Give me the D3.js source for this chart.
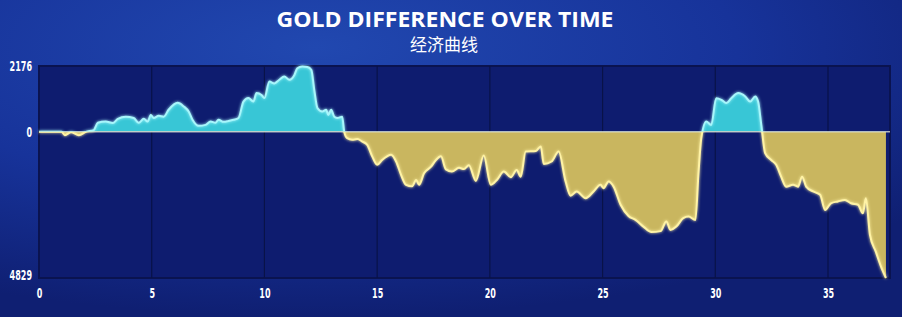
<!DOCTYPE html>
<html>
<head>
<meta charset="utf-8">
<script src="https://cdn.jsdelivr.net/npm/d3@7"></script>
<style>
  html, body { margin: 0; padding: 0; background: #14298a; overflow: hidden; }
  svg { display: block; }
  .axis text {
    fill: #fff;
    font-family: "DejaVu Sans Condensed", "Liberation Sans", sans-serif;
    font-weight: bold;
    font-size: 14px;
  }
</style>
</head>
<body>
<svg id="chart"></svg>
<script>
const title = "GOLD DIFFERENCE OVER TIME";
const subtitle = "经济曲线";

// game minute, gold difference
const minutes = [0, 0.5, 1.0, 1.15, 1.42, 1.77, 2.08, 2.43, 2.61, 2.96, 3.27, 3.5, 3.85, 4.2, 4.42, 4.65, 4.82, 4.96,
  5.09, 5.31, 5.53, 5.75, 6.15, 6.42, 6.64, 6.81, 7.08, 7.39, 7.61, 7.83, 7.96, 8.19, 8.41, 8.63, 8.85, 9.07, 9.29,
  9.51, 9.65, 9.87, 10.0, 10.22, 10.44, 10.66, 10.88, 11.11, 11.33, 11.46, 11.68, 11.9, 12.08, 12.21, 12.35, 12.57,
  12.74, 12.83, 12.96, 13.1, 13.23, 13.45, 13.54, 13.67, 13.89, 14.12, 14.34, 14.56, 14.78, 15.0, 15.22, 15.44,
  15.62, 15.84, 16.06, 16.28, 16.55, 16.73, 16.86, 17.08, 17.39, 17.61, 17.83, 18.05, 18.32, 18.63, 18.85, 19.07,
  19.38, 19.73, 20.04, 20.31, 20.62, 20.93, 21.19, 21.37, 21.59, 22.04, 22.26, 22.39, 22.74, 23.05, 23.36, 23.58,
  23.85, 24.25, 24.6, 24.91, 25.04, 25.27, 25.49, 25.8, 26.15, 26.46, 26.81, 27.17, 27.57, 27.83, 28.01, 28.27,
  28.58, 28.81, 29.12, 29.25, 29.38, 29.6, 29.82, 30.04, 30.27, 30.49, 30.71, 31.02, 31.33, 31.55, 31.77, 31.9,
  32.04, 32.21, 32.48, 32.7, 32.92, 33.14, 33.45, 33.67, 33.85, 34.03, 34.34, 34.65, 34.87, 35.13, 35.44, 35.75,
  36.02, 36.33, 36.55, 36.68, 36.86, 37.12, 37.35, 37.57];
const gold = [0, 0, 0, -110, -10, -110, 0, 60, 300, 340, 290, 430, 500, 460, 300, 430, 340, 560,
  460, 530, 500, 730, 960, 840, 670, 400, 200, 230, 340, 300, 400, 330, 360, 400, 460, 1000, 1120,
  1000, 1280, 1220, 1120, 1660, 1600, 1720, 1830, 1720, 1880, 2100, 2160, 2140, 2050, 1390, 790, 670,
  730, 560, 730, 500, 460, 500, 0, -210, -260, -240, -320, -430, -810, -1090, -930, -810,
  -760, -980, -1420, -1750, -1800, -1590, -1750, -1370, -1150, -930, -810, -1240, -1310, -1190, -1230, -1100,
  -1620, -780, -1750, -1590, -1310, -1500, -1260, -1480, -650, -630, -480, -1060, -980, -650, -1640, -2110,
  -1970, -2190, -1970, -1750, -1860, -1640, -1810, -2410, -2780, -2910, -3130, -3310, -3280, -2960, -3240, -3130,
  -2850, -2800, -2910, -1420, -210, 340, 230, 1110, 1060, 950, 1110, 1280, 1170, 1000, 1170, 1000,
  230, -700, -930, -1090, -1480, -1810, -1750, -1810, -1480, -1810, -1970, -2080, -2580, -2360, -2300, -2250,
  -2360, -2410, -2690, -2190, -3400, -3960, -4450, -4829];

const xTicks = [0, 5, 10, 15, 20, 25, 30, 35];
const yTicks = [2176, 0, -4829];
const yTickLabels = ["2176", "0", "4829"];

const width = 902;
const height = 317;
const margin = {top: 66, right: 12, bottom: 39, left: 39};

const points = minutes.map((m, i) => [m, gold[i]]);

const x = d3.scaleLinear()
      .domain([0, 37.75])
      .range([margin.left, width - margin.right]);

const y = d3.scaleLinear()
      .domain([-4829, 2176])
      .range([height - margin.bottom, margin.top]);

const svg = d3.select("#chart")
      .attr("width", width)
      .attr("height", height);

const defs = svg.append("defs");

const bg = defs.append("radialGradient")
      .attr("id", "bg")
      .attr("cx", "35%").attr("cy", "15%").attr("r", "85%");
bg.append("stop").attr("offset", "0%").attr("stop-color", "#2148b0");
bg.append("stop").attr("offset", "55%").attr("stop-color", "#17339a");
bg.append("stop").attr("offset", "100%").attr("stop-color", "#0f1f72");

const glow = defs.append("filter")
      .attr("id", "glow")
      .attr("x", "-5%").attr("y", "-20%").attr("width", "110%").attr("height", "140%");
glow.append("feGaussianBlur").attr("stdDeviation", 1.6).attr("result", "b");
const merge = glow.append("feMerge");
merge.append("feMergeNode").attr("in", "b");
merge.append("feMergeNode").attr("in", "SourceGraphic");

defs.append("clipPath").attr("id", "above")
  .append("rect")
  .attr("x", 0).attr("y", 0)
  .attr("width", width).attr("height", y(0));

defs.append("clipPath").attr("id", "below")
  .append("rect")
  .attr("x", 0).attr("y", y(0))
  .attr("width", width).attr("height", height - y(0));

svg.append("rect")
  .attr("width", width)
  .attr("height", height)
  .attr("fill", "url(#bg)");

// titles
svg.append("text")
  .attr("x", 445)
  .attr("y", 27)
  .attr("text-anchor", "middle")
  .attr("fill", "#fff")
  .attr("font-family", "'Open Sans', 'Noto Sans', sans-serif")
  .attr("font-weight", "bold")
  .attr("font-size", 21)
  .attr("textLength", 337)
  .attr("lengthAdjust", "spacingAndGlyphs")
  .text(title);

svg.append("text")
  .attr("x", 444)
  .attr("y", 51)
  .attr("text-anchor", "middle")
  .attr("fill", "#fff")
  .attr("font-family", "'Noto Sans CJK SC', sans-serif")
  .attr("font-size", 17)
  .text(subtitle);

// plot panel
svg.append("rect")
  .attr("x", x(0))
  .attr("y", y(2176))
  .attr("width", x(37.75) - x(0))
  .attr("height", y(-4829) - y(2176))
  .attr("fill", "#0e1c6f")
  .attr("stroke", "#0a1350")
  .attr("stroke-width", 2);

svg.append("g")
  .selectAll("line")
  .data(xTicks.slice(1))
  .enter()
  .append("line")
  .attr("x1", d => x(d)).attr("x2", d => x(d))
  .attr("y1", y(2176)).attr("y2", y(-4829))
  .attr("stroke", "#091248")
  .attr("stroke-width", 1.2);

const area = d3.area()
      .x(d => x(d[0]))
      .y0(y(0))
      .y1(d => y(d[1]))
      .curve(d3.curveMonotoneX);

const line = d3.line()
      .x(d => x(d[0]))
      .y(d => y(d[1]))
      .curve(d3.curveMonotoneX);

svg.append("path")
  .datum(points)
  .attr("clip-path", "url(#above)")
  .attr("fill", "#38c6d6")
  .attr("d", area);

svg.append("path")
  .datum(points)
  .attr("clip-path", "url(#below)")
  .attr("fill", "#c9b65f")
  .attr("d", area);

// zero line
svg.append("line")
  .attr("x1", x(0)).attr("x2", x(37.75))
  .attr("y1", y(0)).attr("y2", y(0))
  .attr("stroke", "#e6e8d8")
  .attr("stroke-opacity", 0.75)
  .attr("stroke-width", 1.5);

svg.append("path")
  .datum(points)
  .attr("clip-path", "url(#above)")
  .attr("fill", "none")
  .attr("stroke", "#a8f6fb")
  .attr("stroke-width", 2)
  .attr("stroke-linejoin", "round")
  .attr("filter", "url(#glow)")
  .attr("d", line);

svg.append("path")
  .datum(points)
  .attr("clip-path", "url(#below)")
  .attr("fill", "none")
  .attr("stroke", "#fff3a6")
  .attr("stroke-width", 2)
  .attr("stroke-linejoin", "round")
  .attr("filter", "url(#glow)")
  .attr("d", line);

// narrow tick labels, like the broadcast font
const squeeze = g => g.selectAll("text")
      .attr("textLength", function () { return this.textContent.length * 5.6; })
      .attr("lengthAdjust", "spacingAndGlyphs");

const xAxis = g => g
      .attr("transform", `translate(0,${height - margin.bottom})`)
      .attr("class", "axis")
      .call(d3.axisBottom(x).tickValues(xTicks).tickSize(0).tickPadding(10).tickFormat(d => d))
      .call(g => g.select(".domain").remove())
      .call(squeeze);

const yAxis = g => g
      .attr("transform", `translate(${margin.left - 7},0)`)
      .attr("class", "axis")
      .call(d3.axisLeft(y).tickValues(yTicks).tickSize(0).tickPadding(0).tickFormat((d, i) => yTickLabels[i]))
      .call(g => g.select(".domain").remove())
      .call(squeeze)
      .call(g => g.selectAll(".tick text").filter(d => d < 0).attr("dy", "0.1em"));

svg.append("g").call(xAxis);
svg.append("g").call(yAxis);
</script>
</body>
</html>
